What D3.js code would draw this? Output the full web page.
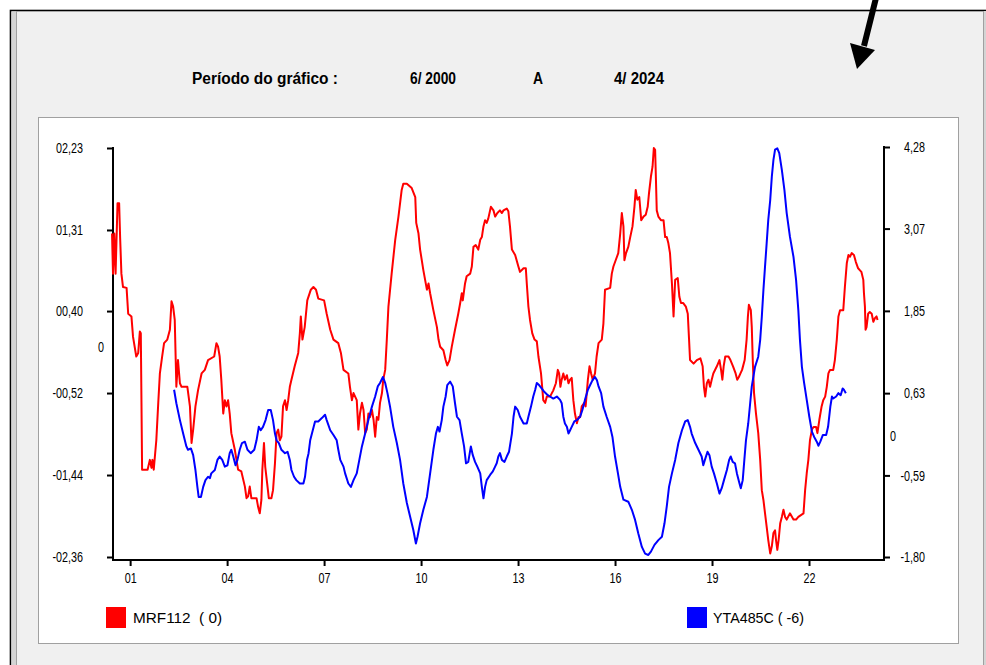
<!DOCTYPE html>
<html>
<head>
<meta charset="utf-8">
<script src="https://cdn.jsdelivr.net/npm/d3@7"></script>
<style>
  html, body { margin: 0; padding: 0; background: #ffffff; }
  svg { display: block; }
  text { font-family: "Liberation Sans", Arial, sans-serif; fill: #000; }
</style>
</head>
<body>
<div id="chart"></div>
<script>
// ---------------- DATA ----------------
const periodLabel = "Período do gráfico :";
const periodStart = "6/ 2000";
const periodSep = "A";
const periodEnd = "4/ 2024";

const xTickYears = [2001, 2004, 2007, 2010, 2013, 2016, 2019, 2022];
const xTickLabels = ["01", "04", "07", "10", "13", "16", "19", "22"];

const leftTickValues = [2.23, 1.31, 0.40, -0.52, -1.44, -2.36];
const leftTickLabels = ["02,23", "01,31", "00,40", "-00,52", "-01,44", "-02,36"];

const rightTickValues = [4.28, 3.07, 1.85, 0.63, -0.59, -1.80];
const rightTickLabels = ["4,28", "3,07", "1,85", "0,63", "-0,59", "-1,80"];

const seriesNames = ["MRF112  ( 0)", "YTA485C ( -6)"];
const seriesColors = ["#ff0000", "#0000ff"];

// MRF112 (left axis): [decimal year, value]
const mrf112 = [[2000.44,1.27],[2000.47,0.82],[2000.51,1.27],[2000.55,0.82],[2000.61,1.61],[2000.66,1.61],[2000.69,1.23],[2000.73,0.82],[2000.78,0.67],[2000.89,0.66],[2000.94,0.37],[2001.04,0.34],[2001.09,0.11],[2001.19,-0.11],[2001.25,-0.07],[2001.30,0.17],[2001.33,0.15],[2001.35,-0.60],[2001.37,-1.38],[2001.54,-1.38],[2001.61,-1.27],[2001.66,-1.36],[2001.69,-1.27],[2001.73,-1.38],[2001.81,-1.05],[2001.87,-0.63],[2001.92,-0.30],[2001.99,-0.11],[2002.05,0.04],[2002.15,0.08],[2002.23,0.19],[2002.28,0.51],[2002.33,0.45],[2002.38,0.30],[2002.43,-0.45],[2002.48,-0.15],[2002.54,-0.41],[2002.59,-0.45],[2002.77,-0.45],[2002.85,-0.67],[2002.90,-1.08],[2002.95,-0.93],[2003.02,-0.67],[2003.10,-0.49],[2003.21,-0.30],[2003.31,-0.26],[2003.41,-0.15],[2003.60,-0.11],[2003.67,0.04],[2003.72,0.00],[2003.77,-0.11],[2003.82,-0.37],[2003.88,-0.75],[2003.93,-0.60],[2003.98,-0.67],[2004.03,-0.60],[2004.08,-0.75],[2004.13,-0.97],[2004.24,-1.16],[2004.34,-1.38],[2004.44,-1.40],[2004.55,-1.57],[2004.60,-1.70],[2004.65,-1.68],[2004.70,-1.57],[2004.75,-1.70],[2004.91,-1.70],[2004.96,-1.80],[2005.01,-1.87],[2005.06,-1.72],[2005.09,-1.38],[2005.14,-1.08],[2005.18,-1.35],[2005.25,-1.57],[2005.29,-1.70],[2005.37,-1.70],[2005.42,-1.61],[2005.48,-1.31],[2005.53,-0.97],[2005.58,-0.93],[2005.63,-1.05],[2005.68,-1.01],[2005.73,-0.67],[2005.79,-0.60],[2005.84,-0.71],[2005.89,-0.60],[2005.94,-0.45],[2005.99,-0.37],[2006.09,-0.22],[2006.20,-0.07],[2006.25,0.15],[2006.28,0.34],[2006.33,0.08],[2006.40,0.22],[2006.48,0.52],[2006.59,0.64],[2006.67,0.67],[2006.75,0.64],[2006.82,0.54],[2007.00,0.52],[2007.08,0.37],[2007.19,0.19],[2007.29,0.08],[2007.44,0.04],[2007.52,-0.07],[2007.60,-0.26],[2007.75,-0.30],[2007.80,-0.45],[2007.86,-0.60],[2007.91,-0.52],[2008.01,-0.60],[2008.06,-0.93],[2008.11,-0.75],[2008.17,-0.63],[2008.22,-0.71],[2008.27,-0.97],[2008.32,-0.93],[2008.37,-0.75],[2008.42,-0.79],[2008.48,-0.71],[2008.53,-0.82],[2008.58,-1.01],[2008.63,-0.79],[2008.68,-0.82],[2008.73,-0.63],[2008.79,-0.52],[2008.83,-0.37],[2008.89,-0.26],[2008.94,0.08],[2008.99,0.45],[2009.09,0.82],[2009.20,1.20],[2009.30,1.46],[2009.40,1.76],[2009.45,1.83],[2009.56,1.83],[2009.71,1.78],[2009.82,1.68],[2009.85,1.39],[2009.92,1.27],[2009.97,1.09],[2010.07,0.86],[2010.18,0.64],[2010.23,0.71],[2010.28,0.60],[2010.38,0.41],[2010.49,0.22],[2010.54,0.08],[2010.59,0.00],[2010.69,-0.04],[2010.76,-0.15],[2010.81,-0.21],[2010.88,-0.15],[2010.95,0.00],[2011.05,0.19],[2011.15,0.37],[2011.21,0.49],[2011.26,0.60],[2011.29,0.52],[2011.36,0.71],[2011.41,0.79],[2011.52,0.82],[2011.57,0.90],[2011.62,1.12],[2011.69,1.14],[2011.77,1.09],[2011.83,1.20],[2011.88,1.23],[2011.93,1.35],[2011.98,1.42],[2012.03,1.39],[2012.08,1.44],[2012.16,1.57],[2012.24,1.53],[2012.29,1.46],[2012.36,1.50],[2012.44,1.53],[2012.50,1.50],[2012.55,1.53],[2012.65,1.55],[2012.70,1.52],[2012.75,1.35],[2012.81,1.09],[2012.91,1.03],[2013.01,0.90],[2013.06,0.84],[2013.17,0.88],[2013.24,0.88],[2013.27,0.71],[2013.32,0.45],[2013.37,0.30],[2013.44,0.15],[2013.51,0.08],[2013.58,0.06],[2013.63,-0.11],[2013.71,-0.30],[2013.78,-0.60],[2013.84,-0.63],[2013.89,-0.56],[2013.99,-0.56],[2014.09,-0.49],[2014.17,-0.41],[2014.23,-0.26],[2014.27,-0.30],[2014.31,-0.45],[2014.35,-0.37],[2014.40,-0.30],[2014.45,-0.37],[2014.51,-0.32],[2014.56,-0.41],[2014.61,-0.37],[2014.66,-0.35],[2014.71,-0.60],[2014.76,-0.75],[2014.82,-0.86],[2014.87,-0.79],[2014.92,-0.79],[2014.97,-0.67],[2015.05,-0.63],[2015.09,-0.67],[2015.16,-0.37],[2015.21,-0.22],[2015.26,-0.30],[2015.31,-0.37],[2015.38,-0.30],[2015.43,-0.11],[2015.49,0.04],[2015.59,0.08],[2015.64,0.26],[2015.69,0.64],[2015.85,0.66],[2015.90,0.82],[2015.95,0.90],[2016.02,0.97],[2016.10,1.05],[2016.16,1.27],[2016.21,1.50],[2016.26,1.35],[2016.29,0.97],[2016.34,1.05],[2016.41,1.12],[2016.47,1.23],[2016.54,1.35],[2016.60,1.57],[2016.64,1.76],[2016.69,1.65],[2016.75,1.68],[2016.81,1.42],[2016.88,1.46],[2016.95,1.48],[2017.01,1.57],[2017.05,1.72],[2017.11,1.91],[2017.16,2.02],[2017.20,2.23],[2017.24,2.21],[2017.26,1.95],[2017.29,1.53],[2017.34,1.46],[2017.42,1.42],[2017.50,1.42],[2017.55,1.23],[2017.60,1.23],[2017.65,1.16],[2017.70,1.05],[2017.76,0.71],[2017.81,0.34],[2017.86,0.75],[2017.94,0.77],[2017.99,0.56],[2018.04,0.49],[2018.11,0.49],[2018.19,0.45],[2018.25,0.37],[2018.29,0.08],[2018.32,-0.15],[2018.43,-0.19],[2018.53,-0.15],[2018.64,-0.13],[2018.71,-0.22],[2018.75,-0.45],[2018.79,-0.56],[2018.84,-0.41],[2018.89,-0.37],[2018.94,-0.45],[2018.99,-0.37],[2019.04,-0.30],[2019.15,-0.22],[2019.23,-0.15],[2019.28,-0.26],[2019.32,-0.37],[2019.36,-0.22],[2019.41,-0.11],[2019.51,-0.11],[2019.57,-0.15],[2019.65,-0.22],[2019.73,-0.30],[2019.78,-0.37],[2019.83,-0.34],[2019.88,-0.30],[2019.93,-0.26],[2020.01,-0.15],[2020.07,0.08],[2020.11,0.34],[2020.14,0.47],[2020.20,0.41],[2020.23,0.22],[2020.26,-0.15],[2020.30,-0.52],[2020.36,-0.75],[2020.43,-0.97],[2020.49,-1.27],[2020.54,-1.61],[2020.59,-1.72],[2020.64,-1.87],[2020.69,-2.02],[2020.74,-2.17],[2020.80,-2.32],[2020.85,-2.24],[2020.90,-2.09],[2020.95,-2.06],[2020.98,-2.17],[2021.02,-2.28],[2021.06,-2.17],[2021.11,-1.98],[2021.16,-1.91],[2021.21,-1.83],[2021.26,-1.91],[2021.31,-1.94],[2021.41,-1.87],[2021.52,-1.94],[2021.60,-1.94],[2021.67,-1.91],[2021.83,-1.87],[2021.88,-1.61],[2021.93,-1.42],[2021.98,-1.27],[2022.03,-1.05],[2022.09,-0.93],[2022.14,-0.90],[2022.22,-0.90],[2022.26,-0.97],[2022.32,-0.82],[2022.39,-0.67],[2022.44,-0.60],[2022.50,-0.56],[2022.55,-0.45],[2022.60,-0.30],[2022.65,-0.26],[2022.75,-0.26],[2022.80,-0.15],[2022.86,0.08],[2022.91,0.34],[2022.96,0.41],[2023.06,0.41],[2023.11,0.67],[2023.17,0.94],[2023.22,1.03],[2023.27,1.01],[2023.32,1.05],[2023.39,1.03],[2023.45,0.95],[2023.52,0.88],[2023.57,0.86],[2023.62,0.84],[2023.68,0.75],[2023.70,0.60],[2023.73,0.45],[2023.75,0.19],[2023.78,0.22],[2023.83,0.37],[2023.88,0.39],[2023.94,0.37],[2023.99,0.28],[2024.04,0.32],[2024.09,0.34],[2024.12,0.30]];

// YTA485C (right axis, lag -6): [decimal year, value]
const yta485c = [[2002.36,0.68],[2002.43,0.48],[2002.54,0.23],[2002.64,0.03],[2002.74,-0.16],[2002.79,-0.21],[2002.88,-0.19],[2002.95,-0.29],[2003.02,-0.51],[2003.08,-0.76],[2003.12,-0.91],[2003.19,-0.91],[2003.26,-0.76],[2003.33,-0.66],[2003.41,-0.61],[2003.47,-0.63],[2003.51,-0.56],[2003.62,-0.51],[2003.70,-0.36],[2003.77,-0.31],[2003.85,-0.36],[2003.93,-0.46],[2004.01,-0.44],[2004.08,-0.26],[2004.13,-0.21],[2004.19,-0.31],[2004.26,-0.44],[2004.32,-0.36],[2004.39,-0.21],[2004.46,-0.11],[2004.55,-0.09],[2004.63,-0.21],[2004.73,-0.26],[2004.84,-0.21],[2004.91,-0.07],[2004.98,0.13],[2005.04,0.08],[2005.11,0.13],[2005.19,0.23],[2005.27,0.38],[2005.35,0.38],[2005.42,0.23],[2005.48,0.03],[2005.53,-0.07],[2005.60,-0.11],[2005.68,-0.21],[2005.79,-0.26],[2005.87,-0.24],[2005.94,-0.36],[2005.99,-0.51],[2006.07,-0.61],[2006.14,-0.66],[2006.25,-0.71],[2006.36,-0.71],[2006.41,-0.61],[2006.47,-0.36],[2006.52,-0.26],[2006.57,-0.07],[2006.65,0.08],[2006.72,0.21],[2006.82,0.21],[2006.93,0.26],[2007.03,0.31],[2007.08,0.23],[2007.19,0.08],[2007.29,0.01],[2007.39,-0.07],[2007.44,-0.21],[2007.50,-0.36],[2007.60,-0.46],[2007.65,-0.56],[2007.75,-0.71],[2007.83,-0.76],[2007.91,-0.66],[2008.01,-0.56],[2008.09,-0.36],[2008.17,-0.16],[2008.27,0.03],[2008.37,0.23],[2008.48,0.43],[2008.58,0.58],[2008.66,0.73],[2008.73,0.78],[2008.82,0.87],[2008.89,0.78],[2008.96,0.63],[2009.04,0.43],[2009.14,0.13],[2009.25,-0.11],[2009.35,-0.36],[2009.45,-0.71],[2009.56,-1.00],[2009.66,-1.20],[2009.76,-1.40],[2009.84,-1.60],[2009.89,-1.50],[2009.97,-1.30],[2010.07,-1.10],[2010.18,-0.91],[2010.28,-0.56],[2010.38,-0.21],[2010.46,0.03],[2010.52,0.13],[2010.57,0.06],[2010.64,0.23],[2010.69,0.43],[2010.76,0.58],[2010.81,0.75],[2010.90,0.80],[2010.98,0.73],[2011.05,0.48],[2011.11,0.28],[2011.19,0.23],[2011.26,0.03],[2011.33,-0.16],[2011.39,-0.41],[2011.46,-0.39],[2011.54,-0.16],[2011.60,-0.29],[2011.67,-0.39],[2011.74,-0.46],[2011.83,-0.56],[2011.88,-0.76],[2011.93,-0.93],[2011.98,-0.76],[2012.03,-0.66],[2012.14,-0.58],[2012.22,-0.53],[2012.29,-0.46],[2012.34,-0.41],[2012.39,-0.31],[2012.44,-0.26],[2012.50,-0.36],[2012.58,-0.39],[2012.65,-0.31],[2012.72,-0.24],[2012.81,0.03],[2012.86,0.28],[2012.91,0.43],[2012.99,0.38],[2013.06,0.28],[2013.17,0.18],[2013.27,0.18],[2013.32,0.28],[2013.40,0.43],[2013.47,0.58],[2013.53,0.68],[2013.58,0.78],[2013.65,0.75],[2013.73,0.70],[2013.81,0.65],[2013.92,0.60],[2013.99,0.58],[2014.09,0.55],[2014.20,0.58],[2014.30,0.53],[2014.35,0.48],[2014.40,0.28],[2014.45,0.18],[2014.51,0.13],[2014.56,0.03],[2014.61,0.08],[2014.66,0.13],[2014.74,0.21],[2014.82,0.23],[2014.92,0.28],[2014.99,0.38],[2015.07,0.53],[2015.16,0.68],[2015.23,0.75],[2015.30,0.82],[2015.38,0.87],[2015.44,0.82],[2015.49,0.73],[2015.57,0.63],[2015.64,0.43],[2015.74,0.28],[2015.85,0.13],[2015.92,-0.02],[2016.00,-0.31],[2016.09,-0.56],[2016.16,-0.76],[2016.26,-0.95],[2016.41,-0.98],[2016.52,-1.10],[2016.62,-1.25],[2016.72,-1.45],[2016.83,-1.65],[2016.93,-1.75],[2017.03,-1.77],[2017.11,-1.72],[2017.22,-1.62],[2017.34,-1.55],[2017.45,-1.50],[2017.53,-1.30],[2017.60,-1.05],[2017.67,-0.76],[2017.76,-0.56],[2017.86,-0.36],[2017.96,-0.11],[2018.07,0.08],[2018.17,0.21],[2018.25,0.23],[2018.32,0.13],[2018.37,0.03],[2018.48,-0.11],[2018.58,-0.21],[2018.68,-0.31],[2018.73,-0.44],[2018.78,-0.36],[2018.86,-0.24],[2018.92,-0.29],[2018.99,-0.46],[2019.06,-0.56],[2019.15,-0.71],[2019.23,-0.86],[2019.30,-0.78],[2019.37,-0.66],[2019.46,-0.51],[2019.53,-0.36],[2019.58,-0.31],[2019.64,-0.39],[2019.71,-0.41],[2019.77,-0.56],[2019.85,-0.71],[2019.89,-0.78],[2019.95,-0.66],[2020.00,-0.36],[2020.05,-0.07],[2020.12,0.18],[2020.18,0.48],[2020.23,0.73],[2020.33,1.02],[2020.43,1.17],[2020.49,1.42],[2020.54,1.76],[2020.59,2.16],[2020.64,2.51],[2020.69,2.85],[2020.74,3.20],[2020.80,3.49],[2020.85,3.84],[2020.90,4.09],[2020.95,4.24],[2021.02,4.26],[2021.08,4.19],[2021.16,3.94],[2021.24,3.64],[2021.31,3.30],[2021.41,2.95],[2021.52,2.65],[2021.60,2.31],[2021.67,1.86],[2021.72,1.42],[2021.78,1.02],[2021.85,0.78],[2021.93,0.53],[2022.01,0.28],[2022.09,0.06],[2022.16,-0.02],[2022.24,-0.09],[2022.29,-0.15],[2022.35,-0.09],[2022.43,0.01],[2022.53,0.01],[2022.59,0.13],[2022.66,0.43],[2022.71,0.58],[2022.75,0.55],[2022.84,0.58],[2022.91,0.63],[2022.98,0.60],[2023.04,0.70],[2023.08,0.68],[2023.14,0.63]];

// ---------------- DRAW ----------------
const W = 986, H = 665;
const svg = d3.select("#chart").append("svg").attr("width", W).attr("height", H);

// condense a text selection horizontally (narrow font look)
function narrow(sel, factor) {
  sel.each(function () {
    const len = this.getComputedTextLength();
    d3.select(this).attr("textLength", (len * factor).toFixed(1)).attr("lengthAdjust", "spacingAndGlyphs");
  });
}

// outer window frame
svg.append("rect").attr("x", 10.5).attr("y", 10.5).attr("width", 990).attr("height", 670)
  .attr("fill", "#f0f0f0").attr("stroke", "#000").attr("stroke-width", 1.6);
svg.append("rect").attr("x", 11.5).attr("y", 11.5).attr("width", 5).attr("height", 660).attr("fill", "#d4d4d4");
svg.append("line").attr("x1", 16.5).attr("x2", 16.5).attr("y1", 11).attr("y2", H).attr("stroke", "#a0a0a0");
svg.append("line").attr("x1", 983.5).attr("x2", 983.5).attr("y1", 11).attr("y2", H).attr("stroke", "#a0a0a0");
svg.append("rect").attr("x", 984).attr("y", 11).attr("width", 2).attr("height", H).attr("fill", "#d4d4d4");

// arrow
svg.append("line").attr("x1", 876).attr("y1", -2).attr("x2", 864).attr("y2", 46)
  .attr("stroke", "#000").attr("stroke-width", 6);
svg.append("path").attr("d", "M850,43 L875,50 L857,69 Z").attr("fill", "#000");

// period header
const hdr = svg.append("g").attr("font-size", 16).attr("font-weight", "bold");
const hdrItems = [[periodLabel, 192, 146], [periodStart, 410, 46], [periodSep, 533, 10], [periodEnd, 614, 50]];
hdrItems.forEach(([t, xx, w]) => {
  hdr.append("text").attr("x", xx).attr("y", 84).attr("textLength", w)
    .attr("lengthAdjust", "spacingAndGlyphs").text(t);
});

// chart panel
svg.append("rect").attr("x", 38.5).attr("y", 117.5).attr("width", 920).attr("height", 526)
  .attr("fill", "#fff").attr("stroke", "#a0a0a0").attr("stroke-width", 1);

// scales
const x = d3.scaleLinear().domain([2000.47, 2024.32]).range([113, 884]);
const yL = d3.scaleLinear().domain([-2.36, 2.23]).range([557, 148]);
const yR = d3.scaleLinear().domain([-1.80, 4.28]).range([557, 147]);
const axisBottomY = 560;

const fs = 15;
const nf = 0.72;

// left axis
const gL = svg.append("g").attr("transform", "translate(113,0)")
  .call(d3.axisLeft(yL).tickValues(leftTickValues).tickSize(6).tickSizeOuter(0)
    .tickFormat((d, i) => leftTickLabels[i]));
gL.select(".domain").remove();
gL.selectAll(".tick line").attr("stroke", "#000").attr("stroke-width", 2);
gL.selectAll(".tick text").attr("x", -30).attr("font-size", fs)
  .attr("font-family", null).attr("fill", "#000").call(narrow, nf);
svg.append("line").attr("x1", 113).attr("x2", 113).attr("y1", yL(2.23) - 1).attr("y2", axisBottomY + 1)
  .attr("stroke", "#000").attr("stroke-width", 2);
svg.append("text").attr("x", 101).attr("y", yL(0)).attr("dy", "0.35em")
  .attr("text-anchor", "middle").attr("font-size", fs).text("0").call(narrow, nf);

// right axis
const gR = svg.append("g").attr("transform", "translate(884,0)")
  .call(d3.axisRight(yR).tickValues(rightTickValues).tickSize(6).tickSizeOuter(0)
    .tickFormat((d, i) => rightTickLabels[i]));
gR.select(".domain").remove();
gR.selectAll(".tick line").attr("stroke", "#000").attr("stroke-width", 2);
gR.selectAll(".tick text").attr("x", 41).attr("text-anchor", "end").attr("font-size", fs)
  .attr("font-family", null).attr("fill", "#000").call(narrow, nf);
svg.append("line").attr("x1", 884).attr("x2", 884).attr("y1", yR(4.28) - 1).attr("y2", axisBottomY + 1)
  .attr("stroke", "#000").attr("stroke-width", 2);
svg.append("text").attr("x", 893).attr("y", yR(0)).attr("dy", "0.35em")
  .attr("text-anchor", "middle").attr("font-size", fs).text("0").call(narrow, nf);

// bottom axis
const gB = svg.append("g").attr("transform", `translate(0,${axisBottomY})`)
  .call(d3.axisBottom(x).tickValues(xTickYears).tickSize(6).tickSizeOuter(0)
    .tickFormat((d, i) => xTickLabels[i]));
gB.select(".domain").remove();
gB.selectAll(".tick line").attr("stroke", "#000").attr("stroke-width", 2);
gB.selectAll(".tick text").attr("y", 12).attr("font-size", fs)
  .attr("font-family", null).attr("fill", "#000").call(narrow, nf);
svg.append("line").attr("x1", 112).attr("x2", 885).attr("y1", axisBottomY).attr("y2", axisBottomY)
  .attr("stroke", "#000").attr("stroke-width", 2);

// series lines
const lineL = d3.line().x(d => x(d[0])).y(d => yL(d[1]));
const lineR = d3.line().x(d => x(d[0])).y(d => yR(d[1]));

svg.append("path").datum(mrf112).attr("d", lineL)
  .attr("fill", "none").attr("stroke", seriesColors[0]).attr("stroke-width", 2)
  .attr("stroke-linejoin", "round");
svg.append("path").datum(yta485c).attr("d", lineR)
  .attr("fill", "none").attr("stroke", seriesColors[1]).attr("stroke-width", 2)
  .attr("stroke-linejoin", "round");

// legend
const legendPos = [[106, 133, 89], [687, 713, 91]];
seriesNames.forEach((name, i) => {
  svg.append("rect").attr("x", legendPos[i][0]).attr("y", 607).attr("width", 20).attr("height", 21)
    .attr("fill", seriesColors[i]);
  svg.append("text").attr("x", legendPos[i][1]).attr("y", 618).attr("dy", "0.35em")
    .attr("font-size", fs).style("white-space", "pre")
    .attr("textLength", legendPos[i][2]).attr("lengthAdjust", "spacingAndGlyphs").text(name);
});
</script>
</body>
</html>
